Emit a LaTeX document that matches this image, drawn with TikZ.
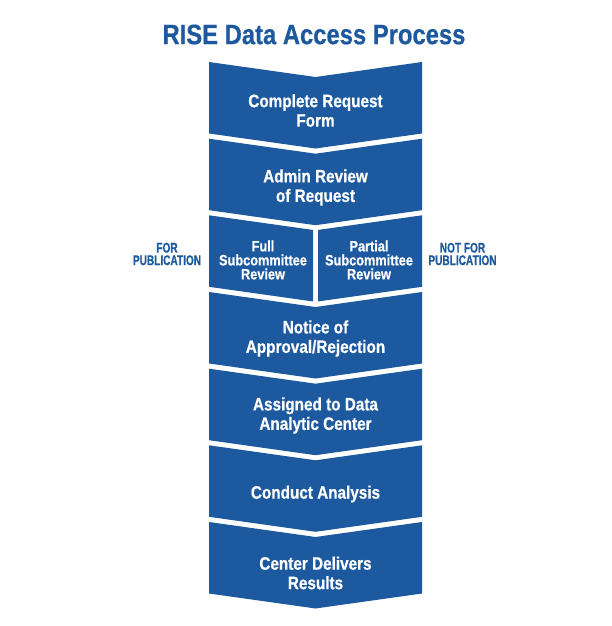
\documentclass[tikz,border=0pt]{standalone}
\usepackage{fontspec}
\setmainfont{Liberation Sans}[FakeStretch=0.85, BoldFeatures={FakeBold=0.6}]
\newfontfamily\narrowfont{Liberation Sans}[FakeStretch=0.72, BoldFeatures={FakeBold=0.6}]
\definecolor{riseblue}{RGB}{28,89,158}
\tikzset{
  chev/.style={fill=riseblue, draw=none},
  boxtext/.style={text=white, align=center, inner sep=0pt, font=\fontsize{18}{19.5}\selectfont\bfseries},
  subtext/.style={text=white, align=center, inner sep=0pt, font=\fontsize{15}{14}\selectfont\bfseries},
  sidetext/.style={text=riseblue, align=center, inner sep=0pt, font=\narrowfont\fontsize{14}{12.5}\selectfont\bfseries},
  titletext/.style={text=riseblue, inner sep=0pt, font=\fontsize{28}{30}\selectfont\bfseries}
}
\newcommand{\chevron}[1]{%
  \fill[chev] (209,#1) -- (315.5,#1+15) -- (422,#1) -- (422,#1+71.5) -- (315.5,#1+86.5) -- (209,#1+71.5) -- cycle;}
\begin{document}
\begin{tikzpicture}[x=1pt,y=-1pt]
\useasboundingbox (0,0) rectangle (612,626);
\fill[white] (0,0) rectangle (612,626);
\node[titletext] (title) at (314,34.5) {RISE Data Access Process};
\chevron{62}
\chevron{138.7}
% split row
\fill[chev] (209,215.3) -- (313,229.95) -- (313,301.45) -- (209,286.8) -- cycle;
\fill[chev] (318,229.95) -- (422,215.3) -- (422,286.8) -- (318,301.45) -- cycle;
\chevron{292}
\chevron{368.7}
\chevron{445.3}
\chevron{522}
\node[boxtext] (n1) at (315.5,110.5) {Complete Request\\Form};
\node[boxtext] (n2) at (315.5,187.5) {Admin Review\\of Request};
\node[subtext] (n3a) at (263,260) {Full\\Subcommittee\\Review};
\node[subtext] (n3b) at (369,260) {Partial\\Subcommittee\\Review};
\node[boxtext] (n4) at (315.5,338.5) {Notice of\\Approval/Rejection};
\node[boxtext] (n5) at (315.5,415.5) {Assigned to Data\\Analytic Center};
\node[boxtext] (n6) at (315.5,494) {Conduct Analysis};
\node[boxtext] (n7) at (315.5,573) {Center Delivers\\Results};
\node[sidetext] (s1) at (167,254) {FOR\\PUBLICATION};
\node[sidetext] (s2) at (462.5,254) {NOT FOR\\PUBLICATION};
\end{tikzpicture}
\end{document}
